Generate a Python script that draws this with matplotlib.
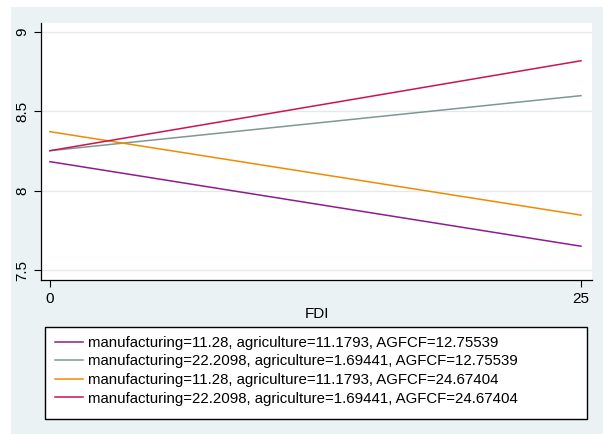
import numpy as np
import matplotlib.pyplot as plt
from matplotlib.patches import Rectangle

plt.rcParams['font.family'] = ['Liberation Sans', 'DejaVu Sans']

fdi = [0, 25]
labels = ['manufacturing=11.28, agriculture=11.1793, AGFCF=12.75539',
          'manufacturing=22.2098, agriculture=1.69441, AGFCF=12.75539',
          'manufacturing=11.28, agriculture=11.1793, AGFCF=24.67404',
          'manufacturing=22.2098, agriculture=1.69441, AGFCF=24.67404']
y_mfg1_ag1 = [8.183, 7.650]
y_mfg2_ag1 = [8.252, 8.599]
y_mfg1_ag2 = [8.372, 7.846]
y_mfg2_ag2 = [8.252, 8.819]
colors = ['#8E1C8E', '#7D9894', '#F08A00', '#CC1450']
yticks = [7.5, 8, 8.5, 9]
xticks = [0, 25]

W, H = 603, 434
fig = plt.figure(figsize=(W / 100, H / 100), dpi=100, facecolor='white')
fig.patches.append(Rectangle((11 / W, 0), 1 - 11 / W, 1 - 7 / H,
                             transform=fig.transFigure, facecolor='#EAF2F3',
                             edgecolor='none', zorder=-10))

ax = fig.add_axes([41 / W, 1 - 280 / H, (592 - 41) / W, (280 - 23) / H])
ax.set_facecolor('white')
series = [y_mfg1_ag1, y_mfg2_ag1, y_mfg1_ag2, y_mfg2_ag2]
handles = []
for ys, c in zip(series, colors):
    h, = ax.plot(fdi, ys, color=c, lw=1.1)
    handles.append(h)

ax.set_xlim(-0.42, 25.52)
ax.set_ylim(7.437, 9.057)
ax.set_yticks(yticks)
ax.set_yticklabels(['7.5', '8', '8.5', '9'], rotation=90, va='center')
ax.set_xticks(xticks)
ax.tick_params(labelsize=11, length=5, width=0.8, color='black')
ax.yaxis.grid(True, color='#E4EAEC', lw=1)
ax.set_axisbelow(True)
for s in ['top', 'right']:
    ax.spines[s].set_visible(False)
for s in ['left', 'bottom']:
    ax.spines[s].set_linewidth(0.9)
ax.set_xlabel('FDI', fontsize=11, labelpad=1)

# legend box
fig.patches.append(Rectangle((45 / W, 1 - 419 / H), (587 - 45) / W, (419 - 327) / H,
                             transform=fig.transFigure, facecolor='white',
                             edgecolor='black', lw=1, zorder=1))
leg = fig.legend(handles, labels, loc='upper left',
                 bbox_to_anchor=(49 / W, 1 - 330 / H), frameon=False,
                 fontsize=10.8, handlelength=1.87, handletextpad=0.33,
                 labelspacing=0.3, borderaxespad=0)

fig.savefig('out.png', dpi=100, facecolor='white')
